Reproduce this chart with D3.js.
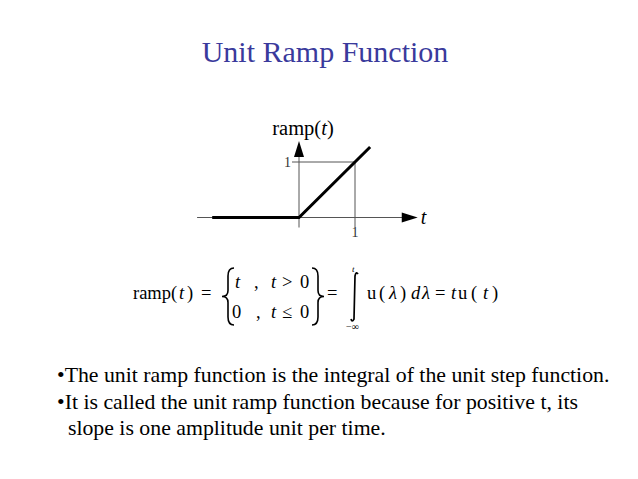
<!DOCTYPE html>
<html>
<head>
<meta charset="utf-8">
<script src="https://cdn.jsdelivr.net/npm/d3@7"></script>
<style>
  body { margin: 0; background: #fff; }
  text { font-family: "Liberation Serif", "Times New Roman", serif; fill: #000; }
</style>
</head>
<body>
<script>
// ramp(t) sample points (t, value)
var rampT = [-1.55, 0, 1.27];
var rampV = [0, 0, 1.27];
var xTicks = [1];
var yTicks = [1];
var xExtent = [-1.82, 2.12];
var yExtent = [0, 1.38];
var bullets = [
  '\u2022The unit ramp function is the integral of the unit step function.',
  '\u2022It is called the unit ramp function because for positive t, its',
  '  slope is one amplitude unit per time.'
];

var width = 638, height = 479;
var svg = d3.select('body').append('svg').attr('width', width).attr('height', height);

// title
svg.append('text').attr('x', 325).attr('y', 62).attr('text-anchor', 'middle')
  .style('font-size', '30px').style('fill', '#3a3a9c').text('Unit Ramp Function');

// plot
var x = d3.scaleLinear().domain([0, 1]).range([299, 355]);
var y = d3.scaleLinear().domain([0, 1]).range([217.5, 162]);
var g = svg.append('g');
var grey = '#555';

// guide lines from tick 1
g.append('line').attr('x1', x(0) - 7).attr('x2', x(1)).attr('y1', y(1)).attr('y2', y(1))
  .attr('stroke', grey).attr('stroke-width', 1);
g.append('line').attr('x1', x(1)).attr('x2', x(1)).attr('y1', y(1)).attr('y2', y(0) + 10)
  .attr('stroke', grey).attr('stroke-width', 1);

// axes
g.append('line').attr('x1', x(xExtent[0])).attr('x2', x(xExtent[1]) - 12).attr('y1', y(0)).attr('y2', y(0))
  .attr('stroke', grey).attr('stroke-width', 1);
g.append('line').attr('x1', x(0)).attr('x2', x(0)).attr('y1', y(0) + 10).attr('y2', y(yExtent[1]) + 12)
  .attr('stroke', grey).attr('stroke-width', 1);
// arrow heads
var xt = x(xExtent[1]), yt = y(yExtent[1]);
g.append('path').attr('d', 'M' + xt + ',' + y(0) + 'L' + (xt - 16) + ',' + (y(0) - 5) + 'L' + (xt - 16) + ',' + (y(0) + 5) + 'Z').attr('fill', '#000');
g.append('path').attr('d', 'M' + x(0) + ',' + yt + 'L' + (x(0) - 5) + ',' + (yt + 16) + 'L' + (x(0) + 5) + ',' + (yt + 16) + 'Z').attr('fill', '#000');

// ramp line
var line = d3.line().x(function (d, i) { return x(d); }).y(function (d, i) { return y(rampV[i]); });
g.append('path').datum(rampT).attr('d', line).attr('fill', 'none').attr('stroke', '#000').attr('stroke-width', 3);

// tick labels
g.selectAll('.xt').data(xTicks).enter().append('text').attr('x', function (d) { return x(d); }).attr('y', y(0) + 19)
  .attr('text-anchor', 'middle').style('font-size', '14px').style('fill', '#333').text(function (d) { return d; });
g.selectAll('.yt').data(yTicks).enter().append('text').attr('x', x(0) - 8).attr('y', function (d) { return y(d) + 5; })
  .attr('text-anchor', 'end').style('font-size', '14px').style('fill', '#333').text(function (d) { return d; });

// axis labels
var yl = g.append('text').attr('x', 303).attr('y', 135).attr('text-anchor', 'middle').style('font-size', '20.5px');
yl.append('tspan').text('ramp(');
yl.append('tspan').style('font-style', 'italic').text('t');
yl.append('tspan').text(')');
g.append('text').attr('x', xt + 3).attr('y', y(0) + 6).style('font-size', '20px').style('font-style', 'italic').text('t');

// equation
var eq = svg.append('g').style('font-size', '18.5px');
function put(tx, ty, s, it, size) {
  var t = eq.append('text').attr('x', tx).attr('y', ty).text(s);
  if (it) t.style('font-style', 'italic');
  if (size) t.style('font-size', size);
  return t;
}
var by = 299;
put(133, by, 'ramp');
put(171, by, '(');
put(179, by, 't', true);
put(187, by, ')');
put(201, by, '=');
put(235, 288, 't', true);
put(254, 288, ',');
put(271, 288, 't', true);
put(282, 288, '>');
put(300, 288, '0');
put(232, 318, '0');
put(256, 318, ',');
put(271, 318, 't', true);
put(282, 318, '\u2264');
put(300, 318, '0');
// braces
function brace(bx, top, bot, dir) {
  var m = (top + bot) / 2, w = 6 * dir;
  var p = 'M' + (bx + w) + ',' + top +
    'Q' + bx + ',' + top + ' ' + bx + ',' + (top + 8) +
    'L' + bx + ',' + (m - 6) +
    'Q' + bx + ',' + m + ' ' + (bx - w) + ',' + m +
    'Q' + bx + ',' + m + ' ' + bx + ',' + (m + 6) +
    'L' + bx + ',' + (bot - 8) +
    'Q' + bx + ',' + bot + ' ' + (bx + w) + ',' + bot;
  eq.append('path').attr('d', p).attr('fill', 'none').attr('stroke', '#000').attr('stroke-width', 1.6);
}
brace(228, 268, 325, 1);
brace(318, 268, 325, -1);
put(327, by, '=');
// integral sign
eq.append('path').attr('d', 'M351,319 Q352,323 354,319 L355,276 Q356,271 358,274')
  .attr('fill', 'none').attr('stroke', '#000').attr('stroke-width', 1.7);
put(352, 272, 't', true, '9px');
put(346, 330, '\u2212\u221E', false, '10px');
put(367, by, 'u');
put(379, by, '(');
put(389, by, '\u03BB', true);
put(400, by, ')');
put(411, by, 'd', true);
put(422, by, '\u03BB', true);
put(435, by, '=');
put(451, by, 't', true);
put(458, by, 'u');
put(471, by, '(');
put(483, by, 't', true);
put(492, by, ')');

// bullet text
svg.selectAll('.bl').data(bullets).enter().append('text')
  .attr('x', 57).attr('y', function (d, i) { return 382 + i * 26.5; })
  .style('font-size', '21.8px').style('white-space', 'pre').attr('xml:space', 'preserve')
  .text(function (d) { return d; });
</script>
</body>
</html>
